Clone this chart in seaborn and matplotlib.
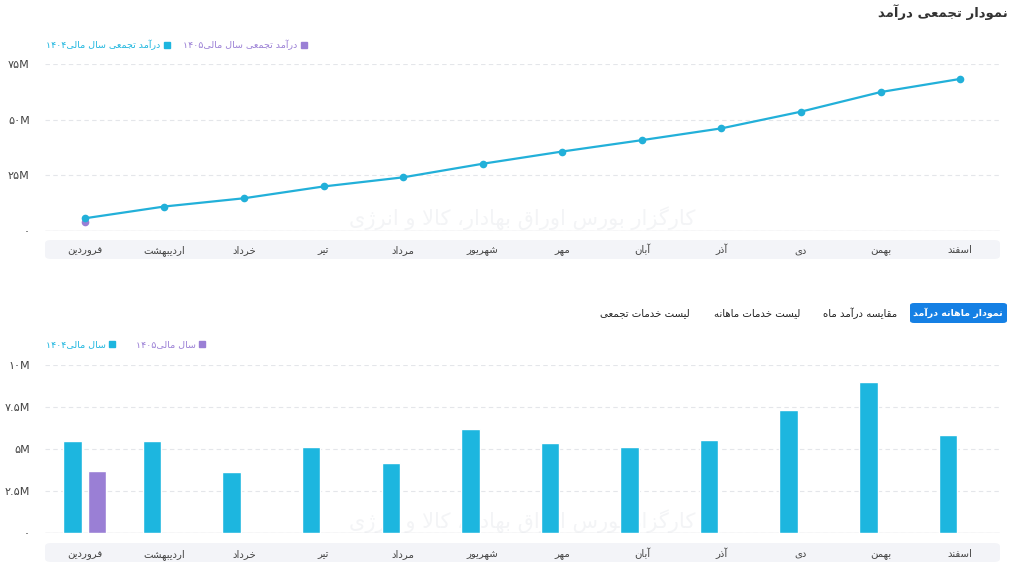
import numpy as np
import pandas as pd
import matplotlib
matplotlib.use("Agg")
import matplotlib.pyplot as plt
from matplotlib.patches import FancyBboxPatch
from matplotlib.lines import Line2D
from matplotlib.ticker import FuncFormatter
import seaborn as sns

# ---- data (values in millions) ----
months = ["فروردین", "اردیبهشت", "خرداد", "تیر", "مرداد", "شهریور",
          "مهر", "آبان", "آذر", "دی", "بهمن", "اسفند"]
cum_1404 = [5.7, 11.0, 14.7, 20.0, 24.1, 30.2, 35.7, 40.8, 46.1, 53.6, 62.4, 68.3]
cum_1405 = [3.9]
monthly_1404 = [5.5, 5.5, 3.63, 5.12, 4.17, 6.21, 5.37, 5.12, 5.51, 7.30, 8.96, 5.83]
monthly_1405 = [3.69]

title_top = "نمودار تجمعی درآمد"
legend_top = ["درآمد تجمعی سال مالی۱۴۰۴", "درآمد تجمعی سال مالی۱۴۰۵"]
legend_bottom = ["سال مالی۱۴۰۴", "سال مالی۱۴۰۵"]
tabs = ["نمودار ماهانه درآمد", "مقایسه درآمد ماه", "لیست خدمات ماهانه", "لیست خدمات تجمعی"]
watermark = "کارگزار بورس اوراق بهادار، کالا و انرژی"

CYAN = "#1db6df"
LINE = "#22b0d9"
PURPLE = "#9a7fd5"
BLUE = "#1580e4"

# ---- minimal persian shaping (matplotlib has no RTL support) ----
FORMS = {
    "ا": ("\uFE8D", "\uFE8E"), "آ": ("\uFE81", "\uFE82"),
    "ب": ("\uFE8F", "\uFE90", "\uFE91", "\uFE92"),
    "پ": ("\uFB56", "\uFB57", "\uFB58", "\uFB59"),
    "ت": ("\uFE95", "\uFE96", "\uFE97", "\uFE98"),
    "ج": ("\uFE9D", "\uFE9E", "\uFE9F", "\uFEA0"),
    "خ": ("\uFEA5", "\uFEA6", "\uFEA7", "\uFEA8"),
    "د": ("\uFEA9", "\uFEAA"), "ذ": ("\uFEAB", "\uFEAC"),
    "ر": ("\uFEAD", "\uFEAE"), "ز": ("\uFEAF", "\uFEB0"),
    "ژ": ("\uFB8A", "\uFB8B"),
    "س": ("\uFEB1", "\uFEB2", "\uFEB3", "\uFEB4"),
    "ش": ("\uFEB5", "\uFEB6", "\uFEB7", "\uFEB8"),
    "ع": ("\uFEC9", "\uFECA", "\uFECB", "\uFECC"),
    "ف": ("\uFED1", "\uFED2", "\uFED3", "\uFED4"),
    "ق": ("\uFED5", "\uFED6", "\uFED7", "\uFED8"),
    "ک": ("\uFB8E", "\uFB8F", "\uFB90", "\uFB91"),
    "گ": ("\uFB92", "\uFB93", "\uFB94", "\uFB95"),
    "ل": ("\uFEDD", "\uFEDE", "\uFEDF", "\uFEE0"),
    "م": ("\uFEE1", "\uFEE2", "\uFEE3", "\uFEE4"),
    "ن": ("\uFEE5", "\uFEE6", "\uFEE7", "\uFEE8"),
    "ه": ("\uFEE9", "\uFEEA", "\uFEEB", "\uFEEC"),
    "و": ("\uFEED", "\uFEEE"),
    "ی": ("\uFBFC", "\uFBFD", "\uFBFE", "\uFBFF"),
}
LAMALEF = {"ا": ("\uFEFB", "\uFEFC"), "آ": ("\uFEF5", "\uFEF6")}


def fa(text):
    ch = list(text)
    n = len(ch)
    shaped = []
    i = 0
    while i < n:
        c = ch[i]
        if c not in FORMS:
            shaped.append(c)
            i += 1
            continue
        prev = ch[i - 1] if i > 0 else ""
        cprev = prev in FORMS and len(FORMS[prev]) == 4
        if c == "ل" and i + 1 < n and ch[i + 1] in LAMALEF:
            lig = LAMALEF[ch[i + 1]]
            shaped.append(lig[1] if cprev else lig[0])
            i += 2
            continue
        nxt = ch[i + 1] if i + 1 < n else ""
        f = FORMS[c]
        cnext = len(f) == 4 and nxt in FORMS
        if cprev and cnext:
            shaped.append(f[3])
        elif cnext:
            shaped.append(f[2])
        elif cprev:
            shaped.append(f[1])
        else:
            shaped.append(f[0])
        i += 1
    # visual order: reverse rtl runs, keep digit/latin runs ltr
    runs = []
    for c in shaped:
        ltr = c.isdigit() or c.isascii() and c.isalnum()
        if runs and runs[-1][0] == ltr:
            runs[-1][1].append(c)
        else:
            runs.append([ltr, [c]])
    out = []
    for ltr, cs in reversed(runs):
        out.append("".join(cs) if ltr else "".join(reversed(cs)))
    return "".join(out)


PERSIAN_DIGITS = str.maketrans("0123456789", "۰۱۲۳۴۵۶۷۸۹")


def mfmt(v, pos):
    if v == 0:
        return "۰"
    s = f"{v:g}M"
    return s.translate(PERSIAN_DIGITS)


# ---- figure ----
sns.set_style("white")
plt.rcParams["font.family"] = ["DejaVu Sans"]
W, H = 1014, 578
fig = plt.figure(figsize=(W / 100, H / 100), dpi=100)


def box(x0, y0, x1, y1):
    return [x0 / W, 1 - y1 / H, (x1 - x0) / W, (y1 - y0) / H]


def band(y0, y1, color="#f3f4f8", x0=45, x1=1000):
    p = FancyBboxPatch((x0 / W, 1 - y1 / H), (x1 - x0) / W, (y1 - y0) / H,
                       boxstyle="round,pad=0,rounding_size=0.006",
                       transform=fig.transFigure, facecolor=color,
                       edgecolor="none", zorder=-1)
    fig.patches.append(p)


def style_axes(ax, xpad):
    for s in ax.spines.values():
        s.set_visible(False)
    ax.grid(axis="y", color="#e4e6ea", linestyle=(0, (4, 3)), linewidth=0.8)
    ax.set_axisbelow(True)
    ax.axhline(0, color="#dcdde2", linewidth=1, zorder=1)
    ax.tick_params(axis="y", length=0, pad=11, labelsize=8, labelcolor="#444")
    ax.tick_params(axis="x", length=0, pad=xpad, labelsize=7.3, labelcolor="#444")
    ax.yaxis.set_major_formatter(FuncFormatter(mfmt))
    ax.set_xlabel("")
    ax.set_ylabel("")
    ax.set_xlim(-0.5, len(months) - 0.5)
    ax.set_xticks(range(len(months)))
    ax.set_xticklabels([fa(m) for m in months], va="baseline")


# ---- top: cumulative line ----
band(240, 259)
ax1 = fig.add_axes(box(45, 64, 1000, 231))
ax1.patch.set_alpha(0)
ax1.text(0.5, 0.08, fa(watermark), transform=ax1.transAxes, ha="center",
         va="center", fontsize=15, color="#f3f4f6", zorder=0)
df_cum = pd.DataFrame({
    "month": months + months[:len(cum_1405)],
    "value": cum_1404 + cum_1405,
    "year": ["1404"] * len(cum_1404) + ["1405"] * len(cum_1405),
})
df_cum["pos"] = df_cum["month"].map({m: i for i, m in enumerate(months)})
sns.lineplot(data=df_cum, x="pos", y="value", hue="year", hue_order=["1405", "1404"],
             palette={"1404": LINE, "1405": PURPLE}, marker="o", markersize=5.5,
             markeredgewidth=0, linewidth=1.6, sort=False, legend=False, ax=ax1)
ax1.set_ylim(0, 75)
ax1.set_yticks([0, 25, 50, 75])
style_axes(ax1, 16)

h_top = [Line2D([], [], marker="s", linestyle="none", color=CYAN, markersize=4),
         Line2D([], [], marker="s", linestyle="none", color=PURPLE, markersize=4)]
ax1.legend(h_top, [fa(t) for t in legend_top], markerfirst=False, ncol=2,
           frameon=False, loc="lower left", bbox_to_anchor=(-0.003, 1.06),
           fontsize=6.8, handlelength=0.6, handletextpad=0.4, columnspacing=1.4,
           borderaxespad=0, labelcolor=[CYAN, PURPLE])

fig.text(1008 / W, 1 - 12 / H, fa(title_top), ha="right", va="center",
         fontsize=9.5, fontweight="bold", color="#333")

# ---- tabs ----
btn = FancyBboxPatch((910 / W, 1 - 323 / H), 97 / W, 20 / H,
                     boxstyle="round,pad=0,rounding_size=0.004",
                     transform=fig.transFigure, facecolor=BLUE, edgecolor="none",
                     zorder=-1)
fig.patches.append(btn)
tab_x = [958, 860, 757, 645]
for t, x in zip(tabs, tab_x):
    fig.text(x / W, 1 - 313 / H, fa(t), ha="center", va="center",
             fontsize=6.8 if x == 958 else 7.3,
             color="white" if x == 958 else "#222",
             fontweight="bold" if x == 958 else "normal")

# ---- bottom: monthly bars ----
band(543, 562)
ax2 = fig.add_axes(box(45, 365, 1000, 533))
ax2.patch.set_alpha(0)
ax2.text(0.5, 0.07, fa(watermark), transform=ax2.transAxes, ha="center",
         va="center", fontsize=15, color="#f3f4f6", zorder=0)
df_mon = pd.DataFrame({
    "month": months + months,
    "value": monthly_1404 + monthly_1405 + [np.nan] * (len(months) - len(monthly_1405)),
    "year": ["1404"] * len(months) + ["1405"] * len(months),
})
sns.barplot(data=df_mon, x="month", y="value", hue="year", order=months,
            hue_order=["1404", "1405"], palette={"1404": CYAN, "1405": PURPLE},
            width=0.62, gap=0.25, saturation=1, errorbar=None, legend=False,
            ax=ax2, zorder=2)
ax2.set_ylim(0, 10)
ax2.set_yticks([0, 2.5, 5, 7.5, 10])
style_axes(ax2, 17)

h_bot = [Line2D([], [], marker="s", linestyle="none", color=CYAN, markersize=4),
         Line2D([], [], marker="s", linestyle="none", color=PURPLE, markersize=4)]
ax2.legend(h_bot, [fa(t) for t in legend_bottom], markerfirst=False, ncol=2,
           frameon=False, loc="lower left", bbox_to_anchor=(-0.003, 1.07),
           fontsize=6.8, handlelength=0.6, handletextpad=0.4, columnspacing=2.2,
           borderaxespad=0, labelcolor=[CYAN, PURPLE])

fig.savefig("out.png", dpi=100)
